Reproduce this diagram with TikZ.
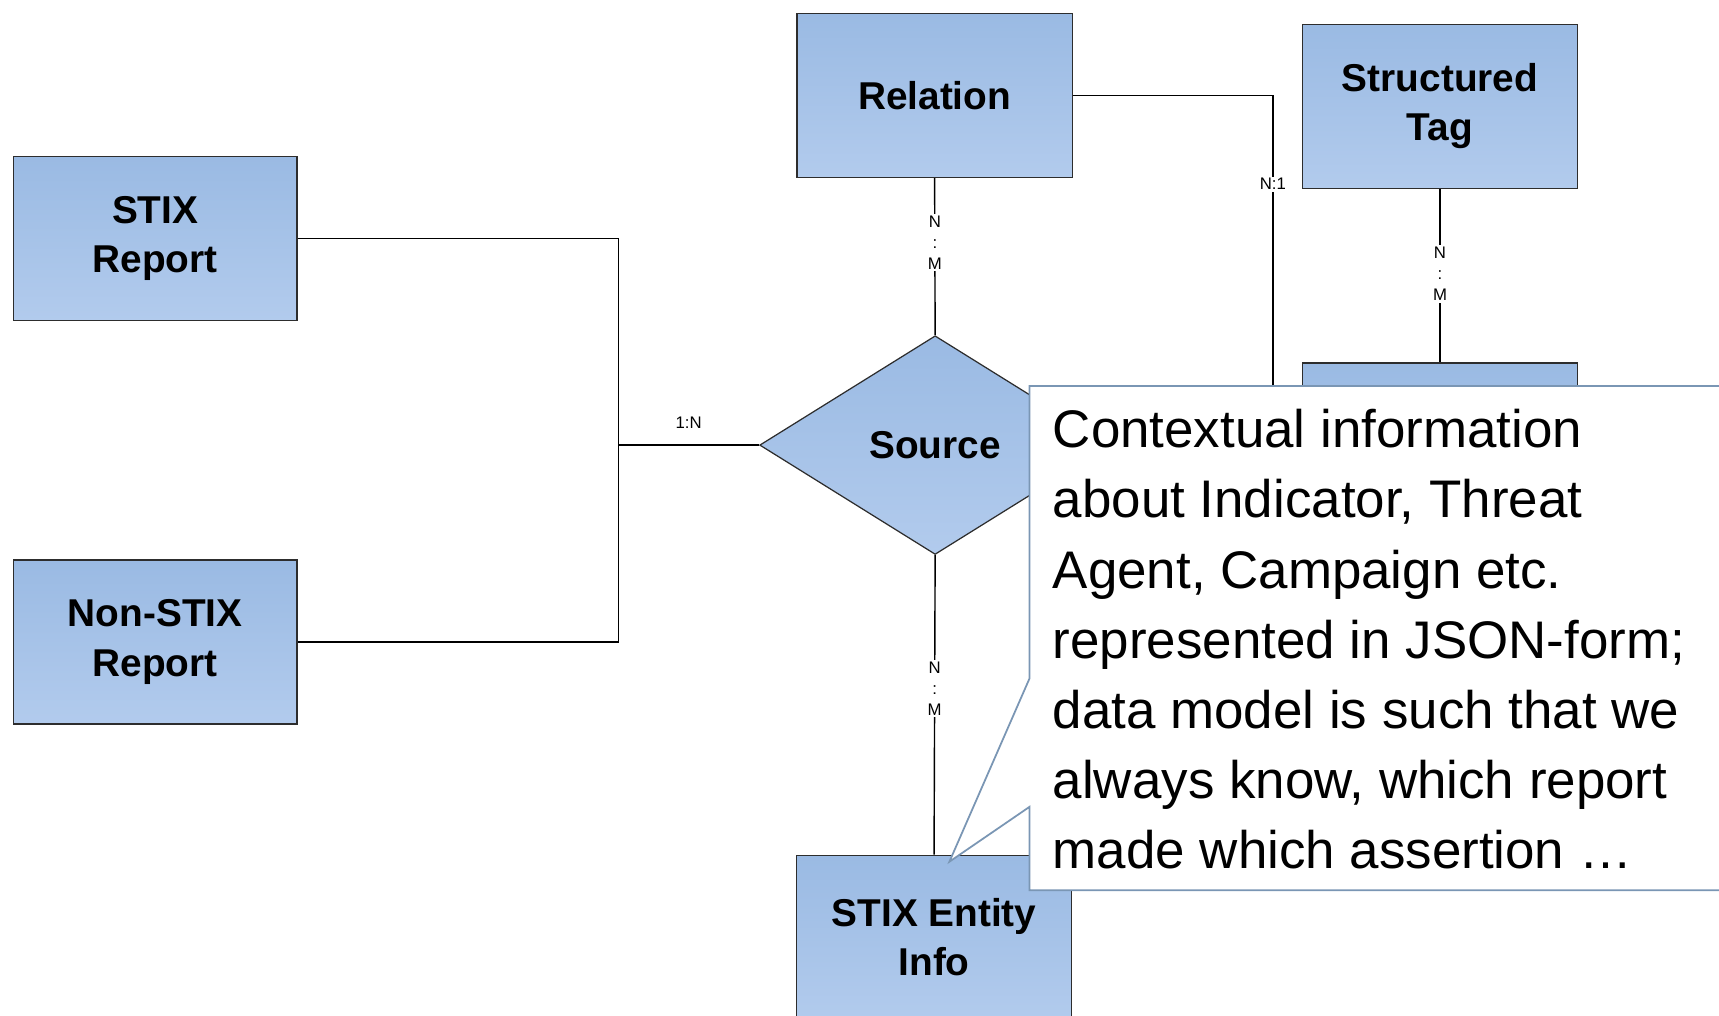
\documentclass[tikz,border=0pt]{standalone}
\usepackage{fontspec}
\setmainfont{Liberation Sans}
\usetikzlibrary{shapes.geometric}
\definecolor{boxtop}{RGB}{154,186,227}
\definecolor{boxbottom}{RGB}{178,203,237}
\definecolor{boxline}{RGB}{45,45,45}
\definecolor{noteline}{RGB}{122,150,180}
\begin{document}
\begin{tikzpicture}[x=0.6216pt, y=-0.6216pt,
	entity/.style={draw=boxline, line width=0.7pt, top color=boxtop, bottom color=boxbottom, minimum width=156pt, minimum height=93pt, inner sep=0pt, align=center, font=\bfseries\fontsize{22}{28}\selectfont},
	rel/.style={entity, diamond, minimum width=199pt, minimum height=124pt},
	cardlabel/.style={fill=white, inner sep=1pt, align=center, font=\fontsize{9.5}{12}\selectfont},
	link/.style={draw=black, line width=0.8pt}]
			\useasboundingbox (0,0) rectangle (1568,926);
			\clip (0,0) rectangle (1568,926);

			\node[entity, minimum width=161pt] at (141.5, 217.5) (stix) {STIX\\Report};
			\node[entity, minimum width=161pt] at (141.5, 585.5) (nonstix) {Non-STIX\\Report};
			\node[entity] at (852.5, 87) (relation) {Relation};
			\node[entity] at (1313.5, 97) (tag) {Structured\\Tag};
			\node[entity] at (1313.5, 406) (tagged) {};
			\node[rel] at (853, 406) (source) {Source};
			\node[entity] at (852, 855) (info) {STIX Entity\\Info};

			\coordinate (join) at (564, 406);
			\coordinate (rbend) at (1161, 406);

			\draw[link] (stix.east) -| (join) |- (nonstix.east);
			\draw[link] (relation.east) -| node[cardlabel, pos=0.627] {N:1} (rbend) -- (tagged.west);
			\path
			(join) edge[link] node[cardlabel, above=8pt, fill=none] {1:N} (source.west)
			(relation.south) edge[link] node[cardlabel, pos=0.41] {N\\:\\M} (source.north)
			(tag.south) edge[link] node[cardlabel, pos=0.49] {N\\:\\M} (tagged.north)
			(source.south) edge[link] node[cardlabel, pos=0.445] {N\\:\\M} (info.north);

			% callout over the right half
			\coordinate (tip) at (866, 786);
			\filldraw[fill=white, draw=noteline, line width=1pt] (939, 352) -- (1600, 352) -- (1600, 812) -- (939, 812) -- (939, 736) -- (tip) -- (939, 619) -- cycle;
			\node[anchor=north west, inner sep=0pt, align=left, font=\fontsize{30}{39.8}\selectfont] at (960, 373) (note) {Contextual information\\about Indicator, Threat\\Agent, Campaign etc.\\represented in JSON-form;\\data model is such that we\\always know, which report\\made which assertion …};
		\end{tikzpicture}
\end{document}
